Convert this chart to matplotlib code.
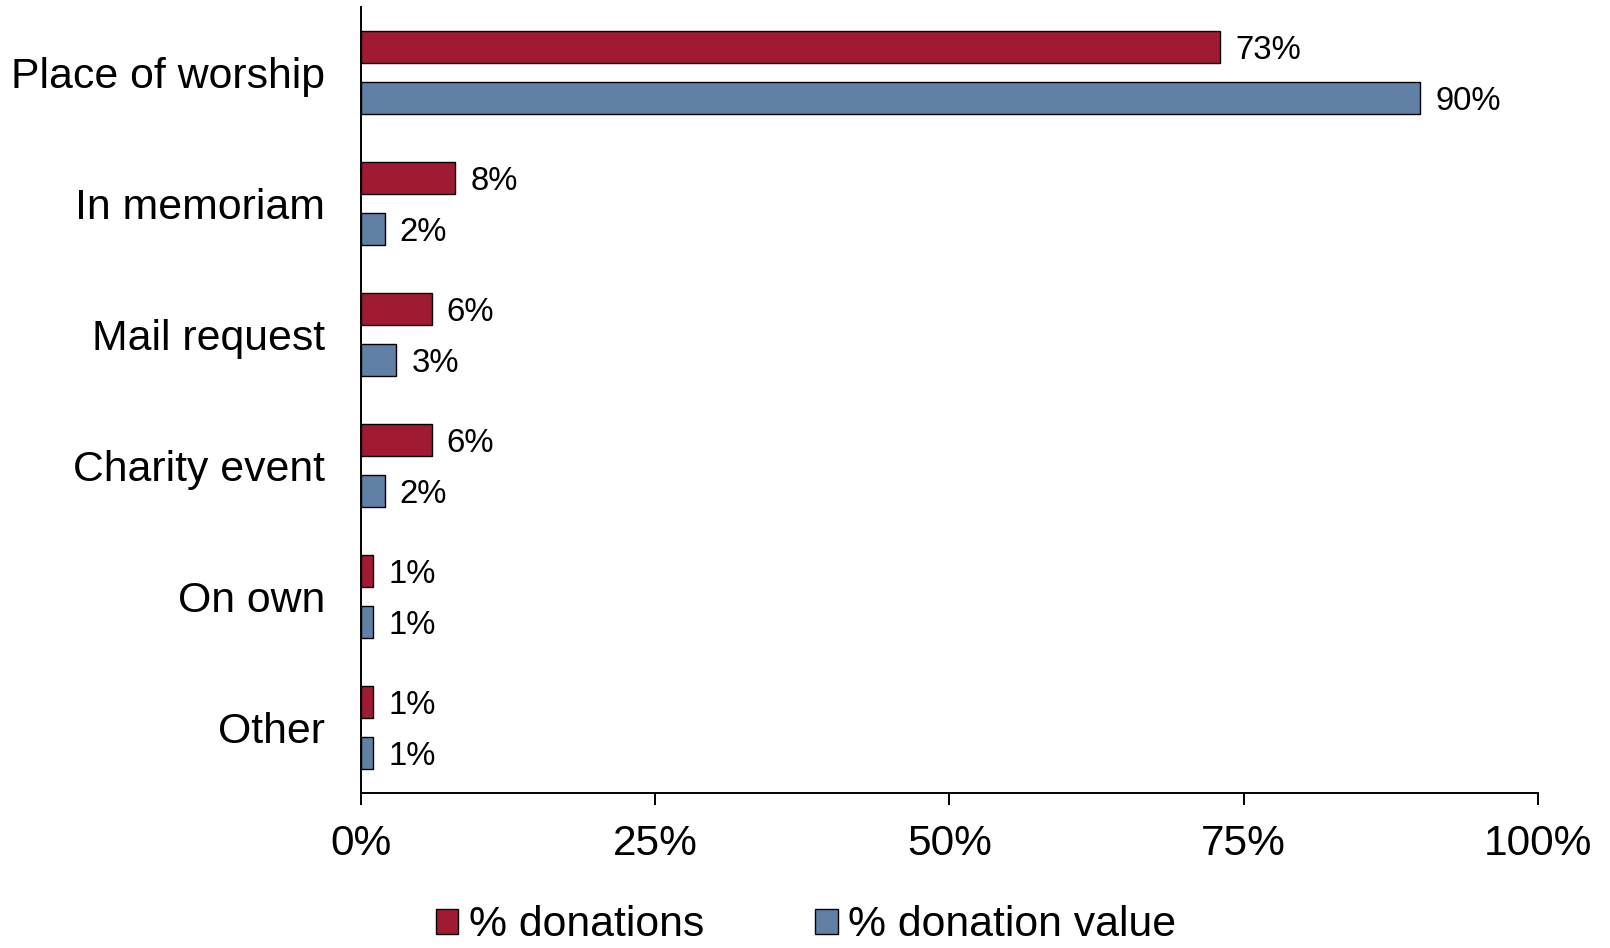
import matplotlib
matplotlib.use("Agg")
import matplotlib.pyplot as plt
import numpy as np

plt.rcParams['font.family'] = ['Liberation Sans', 'DejaVu Sans']

categories = ["Place of worship", "In memoriam", "Mail request", "Charity event", "On own", "Other"]
pct_donations = [73, 8, 6, 6, 1, 1]
pct_value = [90, 2, 3, 2, 1, 1]
series_names = ["% donations", "% donation value"]
xticks = [0, 25, 50, 75, 100]
xtick_labels = ["0%", "25%", "50%", "75%", "100%"]

red = "#A01A32"
blue = "#6080A6"

fig = plt.figure(figsize=(16.10, 9.48), dpi=100)
ax = fig.add_axes([0.2242, 0.1635, 0.9553 - 0.2242, 0.9926 - 0.1635])

y = np.arange(len(categories))
h = 0.24
off = 0.195
b1 = ax.barh(y - off, pct_donations, height=h, color=red, edgecolor="black", linewidth=1.0, label=series_names[0])
b2 = ax.barh(y + off, pct_value, height=h, color=blue, edgecolor="black", linewidth=1.0, label=series_names[1])

for vals, ys in ((pct_donations, y - off), (pct_value, y + off)):
    for v, yy in zip(vals, ys):
        ax.annotate(f"{v}%", xy=(v, yy), xytext=(11, 0), textcoords="offset points",
                    ha="left", va="center_baseline", fontsize=23.7)

ax.set_xlim(0, 100)
ax.set_ylim(len(categories) - 0.5, -0.5)
ax.set_yticks(y)
ax.set_yticklabels(categories, fontsize=30.8)
ax.set_xticks(xticks)
ax.set_xticklabels(xtick_labels, fontsize=30.5)
ax.tick_params(axis='y', length=0, pad=26)
ax.tick_params(axis='x', length=8.6, width=1.4, direction='out', pad=13.5)
for s in ["top", "right"]:
    ax.spines[s].set_visible(False)
for s in ["left", "bottom"]:
    ax.spines[s].set_linewidth(1.4)
    ax.spines[s].set_color("black")

fig.legend(handles=[b1, b2], labels=series_names, loc="lower center", bbox_to_anchor=(0.5006, -0.022),
           ncol=2, frameon=False, fontsize=30.8, handlelength=0.53, handleheight=0.53,
           handletextpad=0.24, columnspacing=2.6, borderpad=0.05)

fig.savefig("out.png", dpi=100)
